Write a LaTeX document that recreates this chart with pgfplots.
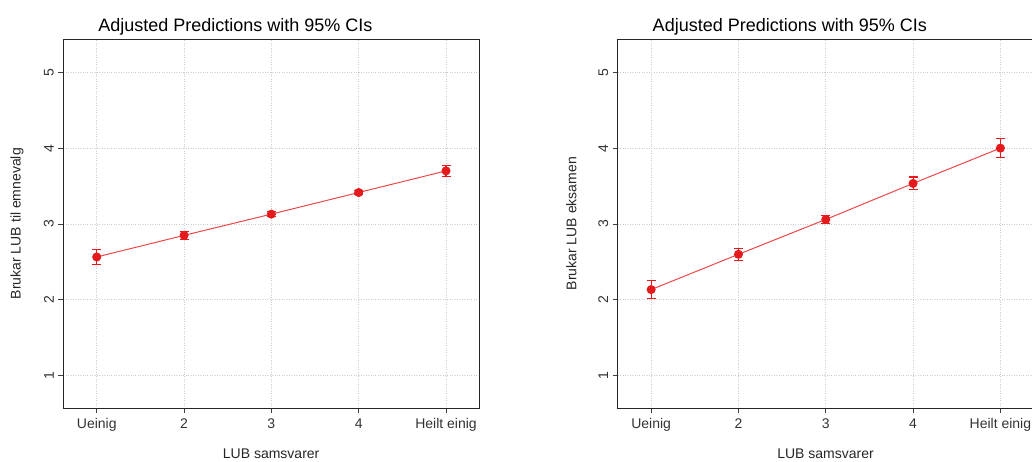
\documentclass[border=0pt]{standalone}
\usepackage{fontspec}
\setmainfont{Liberation Sans}
\usepackage{pgfplots}
\pgfplotsset{compat=1.18}
\usepackage{pgfplotstable}

\definecolor{stred}{RGB}{228,26,28}
\definecolor{stline}{RGB}{236,72,72}

% x  y  em ep  (95% CI as minus/plus)
\pgfplotstableread{
x y em ep
1 2.565 0.095 0.100
2 2.850 0.055 0.050
3 3.130 0.030 0.030
4 3.415 0.030 0.030
5 3.700 0.070 0.070
}\emnevalg

\pgfplotstableread{
x y em ep
1 2.135 0.115 0.115
2 2.600 0.080 0.080
3 3.060 0.050 0.050
4 3.535 0.085 0.085
5 4.000 0.120 0.125
}\eksamen

\pgfplotsset{
  margplot/.style={
    scale only axis, width=415.7pt, height=368.7pt,
    xmin=0.617, xmax=5.378, ymin=0.574, ymax=5.435,
    xtick={1,2,3,4,5}, xticklabels={Ueinig,2,3,4,Heilt einig},
    ytick={1,2,3,4,5},
    /pgf/number format/assume math mode=true,
    xtick pos=bottom, ytick pos=left,
    grid=major, grid style={dotted, black!20, line width=0.8pt},
    tick align=outside, major tick length=5pt,
    tick style={black!75, line width=0.8pt},
    axis line style={black!85, line width=0.9pt},
    ticklabel style={font=\fontsize{14}{14}\selectfont, text=black!80},
    yticklabel style={rotate=90, anchor=south, yshift=1pt},
    xticklabel style={yshift=-2pt},
    label style={font=\fontsize{14}{14}\selectfont, text=black!85},
    xlabel={LUB samsvarer},
    xlabel style={at={([yshift=-46pt]axis description cs:0.5,0)}, anchor=center},
    ylabel style={at={([xshift=-46.3pt]axis description cs:0,0.5)}, anchor=center},
    title style={at={([yshift=6pt]axis description cs:0.414,1)}, anchor=center,
      font=\fontsize{18}{18}\selectfont},
    title={Adjusted Predictions with 95\% CIs},
  },
  ciline/.style={
    color=stline, line width=1pt, mark=*, mark size=4pt,
    mark options={fill=stred, draw=stred},
    error bars/.cd, y dir=both, y explicit,
    error bar style={stred, line width=1.1pt},
    error mark options={rotate=90, mark size=4.5pt, stred, line width=1.1pt},
  },
}

\begin{document}
\begin{tikzpicture}
\begin{axis}[margplot, at={(63.3pt,54pt)}, anchor=south west,
  ylabel={Brukar LUB til emnevalg}]
  \addplot[ciline] table[x=x, y=y, y error minus=em, y error plus=ep] {\emnevalg};
\end{axis}
\begin{axis}[margplot, at={(617.7pt,54pt)}, anchor=south west,
  ylabel={Brukar LUB eksamen}]
  \addplot[ciline] table[x=x, y=y, y error minus=em, y error plus=ep] {\eksamen};
\end{axis}
\pgfresetboundingbox
\path[use as bounding box] (0,0) rectangle (1032pt,462pt);
\end{tikzpicture}
\end{document}
